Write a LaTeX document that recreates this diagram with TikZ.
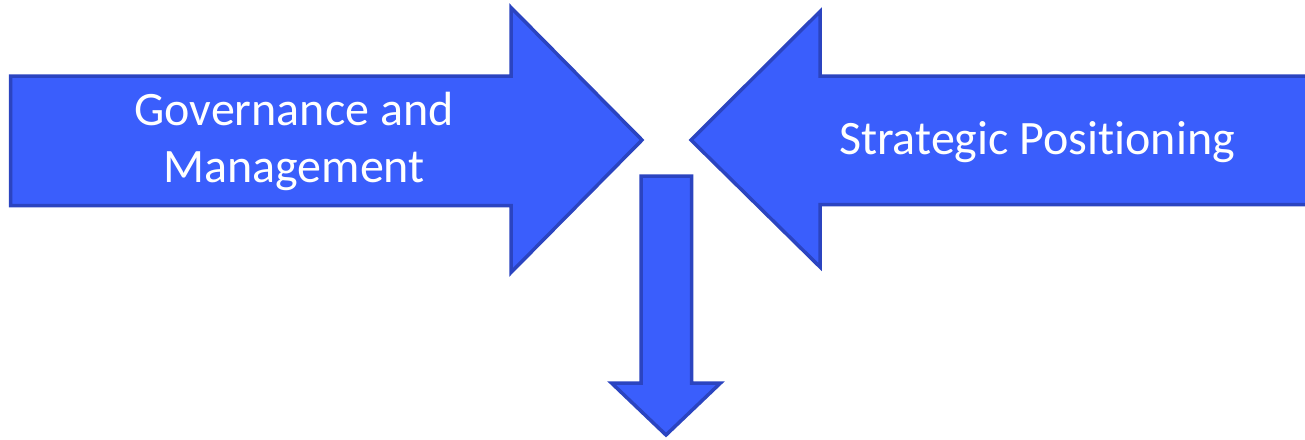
\documentclass[tikz,border=0pt]{standalone}
\usepackage{fontspec}
\setmainfont[Ligatures=NoCommon]{Carlito}
\definecolor{arrowfill}{HTML}{3A5EFC}
\definecolor{arrowline}{HTML}{2B44C0}
\begin{document}
\begin{tikzpicture}[x=1pt,y=-1pt]
\tikzset{blockarrow/.style={fill=arrowfill,draw=arrowline,line width=3.5pt,line join=miter},
  arrowlabel/.style={text=white,align=center,inner sep=0pt,font=\fontsize{48}{57}\selectfont}}
\useasboundingbox (0,0) rectangle (1305,439);
\clip (0,0) rectangle (1305,439);
\draw [blockarrow] (10.5,76) -- (511,76) -- (511,7.5) -- (642,140) -- (511,272.5) -- (511,205.5) -- (10.5,205.5) -- cycle;
\draw [blockarrow] (1315,76) -- (820,76) -- (820,11.5) -- (691,140) -- (820,267) -- (820,204.5) -- (1315,204.5) -- cycle;
\draw [blockarrow] (641,176) -- (691.5,176) -- (691.5,383) -- (720.5,383) -- (666,435) -- (611.5,383) -- (641,383) -- cycle;
\node [arrowlabel] (govern) at (294,141) {Governance and\\Management};
\node [arrowlabel] (strat) at (1037,142) {Strategic Posit\kern0pt ioning};
\end{tikzpicture}
\end{document}
